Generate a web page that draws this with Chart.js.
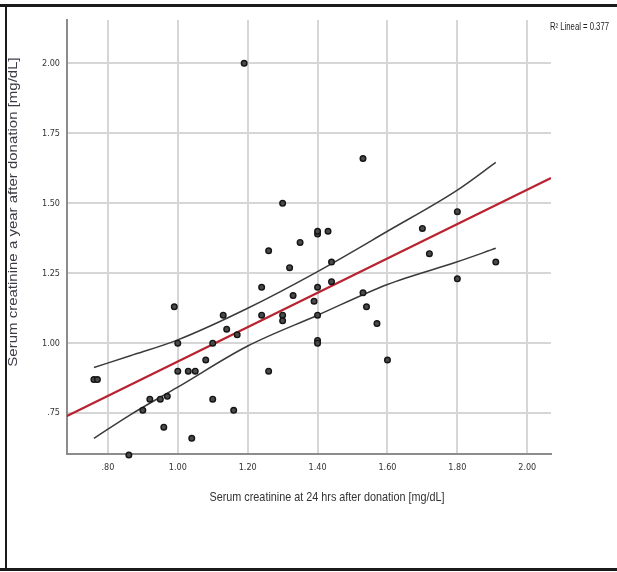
<!DOCTYPE html>
<html>
<head>
<meta charset="utf-8">
<script src="https://cdn.jsdelivr.net/npm/chart.js@4.4.0/dist/chart.umd.min.js"></script>
<style>
  body { margin: 0; background: #fff; }
  #wrap { position: relative; width: 617px; height: 572px; overflow: hidden; }
  #scatterChart { position: absolute; left: 0; top: 0; }
  .frame { position: absolute; background: #1a1a1a; }
</style>
</head>
<body>
<div id="wrap">
  <canvas id="scatterChart" width="617" height="572"></canvas>
  <div class="frame" style="left:0;top:4px;width:617px;height:3px;"></div>
  <div class="frame" style="left:5px;top:4px;width:2px;height:567px;"></div>
  <div class="frame" style="left:0;top:568px;width:617px;height:3px;"></div>
</div>
<script>
// Serum creatinine at 24 hrs (x) vs a year after donation (y), mg/dL
const creat24h = [0.76, 0.77, 0.86, 0.90, 0.92, 0.95, 0.97, 0.96, 0.99, 1.00,
                  1.00, 1.03, 1.04, 1.05, 1.08, 1.10, 1.10, 1.13, 1.14, 1.16,
                  1.17, 1.19, 1.24, 1.24, 1.26, 1.26, 1.30, 1.30, 1.30, 1.32,
                  1.33, 1.35, 1.39, 1.40, 1.40, 1.40, 1.40, 1.40, 1.40, 1.43,
                  1.44, 1.44, 1.53, 1.53, 1.54, 1.57, 1.60, 1.70, 1.72, 1.80,
                  1.80, 1.91];
const creat1yr = [0.87, 0.87, 0.60, 0.76, 0.80, 0.80, 0.81, 0.70, 1.13, 1.00,
                  0.90, 0.90, 0.66, 0.90, 0.94, 1.00, 0.80, 1.10, 1.05, 0.76,
                  1.03, 2.00, 1.20, 1.10, 1.33, 0.90, 1.50, 1.10, 1.08, 1.27,
                  1.17, 1.36, 1.15, 1.39, 1.40, 1.20, 1.10, 1.01, 1.00, 1.40,
                  1.29, 1.22, 1.66, 1.18, 1.13, 1.07, 0.94, 1.41, 1.32, 1.47,
                  1.23, 1.29];

// linear fit (red) and 95% mean confidence band
const fitX = [0.683, 2.068];
const fitY = [0.74, 1.59];
const bandX = [0.76, 0.864, 1.00, 1.20, 1.40, 1.60, 1.80, 1.91];
const bandUpper = [0.913, 0.955, 1.012, 1.125, 1.256, 1.40, 1.547, 1.646];
const bandLower = [0.66, 0.744, 0.843, 0.99, 1.10, 1.21, 1.291, 1.339];

const xTicks = [0.8, 1.0, 1.2, 1.4, 1.6, 1.8, 2.0];
const xTickLabels = [".80", "1.00", "1.20", "1.40", "1.60", "1.80", "2.00"];
const yTicks = [0.75, 1.0, 1.25, 1.5, 1.75, 2.0];
const yTickLabels = [".75", "1.00", "1.25", "1.50", "1.75", "2.00"];

const xTitle = "Serum creatinine at 24 hrs after donation [mg/dL]";
const yTitle = "Serum creatinine a year after donation [mg/dL]";
const fitLabel = "R\u00B2 Lineal = 0.377";

const narrow = "'Liberation Sans Narrow', 'DejaVu Sans Condensed', 'Liberation Sans', sans-serif";
const sans = "'Liberation Sans', Arial, sans-serif";

const toPoints = (xs, ys) => xs.map((x, i) => ({ x: x, y: ys[i] }));

// draw text squeezed to a given width (the original picture is squashed sideways)
function squeezedText(ctx, text, x, y, width, align) {
    const w = ctx.measureText(text).width;
    const k = width / w;
    ctx.save();
    ctx.translate(x, y);
    ctx.scale(k, 1);
    ctx.textAlign = align;
    ctx.fillText(text, 0, 0);
    ctx.restore();
}

// titles drawn where SPSS put them (not centred on the plot area)
const titlesPlugin = {
    id: 'titles',
    afterDraw(chart) {
        const ctx = chart.ctx;
        ctx.save();
        ctx.fillStyle = "#3c3c48";
        ctx.font = "15px " + sans;
        ctx.textAlign = "center";
        ctx.textBaseline = "middle";
        ctx.translate(14, 212);
        ctx.rotate(-Math.PI / 2);
        ctx.scale(1, 0.8);
        ctx.fillText(yTitle, 0, 0);
        ctx.restore();

        ctx.save();
        ctx.fillStyle = "#333";
        ctx.textBaseline = "middle";
        ctx.font = "13px " + sans;
        squeezedText(ctx, xTitle, 327, 497, 235, "center");
        ctx.font = "10px " + sans;
        ctx.fillStyle = "#222";
        squeezedText(ctx, fitLabel, 550, 27, 59, "left");
        ctx.restore();
    }
};

const ctx = document.getElementById("scatterChart").getContext('2d');
new Chart(ctx, {
    type: 'scatter',
    data: {
        datasets: [{
            label: "Patients",
            data: toPoints(creat24h, creat1yr),
            backgroundColor: "#4a4a4a",
            borderColor: "#151515",
            borderWidth: 1.4,
            pointRadius: 2.8,
            pointHoverRadius: 2.8,
            clip: false
        }, {
            label: "Fit",
            type: 'line',
            data: toPoints(fitX, fitY),
            borderColor: "#b8232f",
            borderWidth: 2.2,
            pointRadius: 0,
            fill: false
        }, {
            label: "Upper",
            type: 'line',
            data: toPoints(bandX, bandUpper),
            borderColor: "#3a3a3a",
            borderWidth: 1.5,
            pointRadius: 0,
            cubicInterpolationMode: 'monotone',
            fill: false
        }, {
            label: "Lower",
            type: 'line',
            data: toPoints(bandX, bandLower),
            borderColor: "#3a3a3a",
            borderWidth: 1.5,
            pointRadius: 0,
            cubicInterpolationMode: 'monotone',
            fill: false
        }]
    },
    options: {
        responsive: false,
        maintainAspectRatio: false,
        devicePixelRatio: 1,
        animation: false,
        layout: { padding: { top: 20, right: 66, left: 0, bottom: 0 } },
        plugins: { legend: { display: false }, tooltip: { enabled: false } },
        scales: {
            x: {
                type: 'linear',
                min: 0.683,
                max: 2.068,
                afterFit: scale => { scale.height = 118; },
                afterBuildTicks: scale => { scale.ticks = xTicks.map(v => ({ value: v })); },
                grid: { color: "#d6d6d6", lineWidth: 2, drawTicks: false },
                border: { color: "#8c8c8c", width: 2 },
                ticks: {
                    autoSkip: false,
                    padding: 8,
                    color: "#333",
                    font: { family: narrow, size: 9 },
                    callback: (v, i) => xTickLabels[i]
                }
            },
            y: {
                type: 'linear',
                min: 0.604,
                max: 2.155,
                afterFit: scale => { scale.width = 67; },
                afterBuildTicks: scale => { scale.ticks = yTicks.map(v => ({ value: v })); },
                grid: { color: "#d6d6d6", lineWidth: 2, drawTicks: false },
                border: { color: "#8c8c8c", width: 2 },
                ticks: {
                    autoSkip: false,
                    padding: 7,
                    color: "#333",
                    font: { family: narrow, size: 9 },
                    callback: (v, i) => yTickLabels[i]
                }
            }
        }
    },
    plugins: [titlesPlugin]
});
</script>
</body>
</html>
